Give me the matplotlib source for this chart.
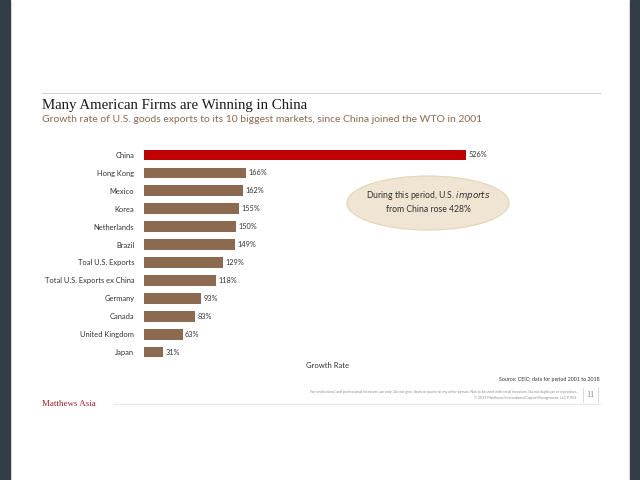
import matplotlib.pyplot as plt
from matplotlib.patches import Ellipse, Rectangle
from matplotlib.lines import Line2D

markets = ["China", "Hong Kong", "Mexico", "Korea", "Netherlands", "Brazil",
           "Toal U.S. Exports", "Total U.S. Exports ex China", "Germany",
           "Canada", "United Kingdom", "Japan"]
growth = [526, 166, 162, 155, 150, 149, 129, 118, 93, 83, 63, 31]

W, H = 640, 480


def px(x, y):
    return x / W, 1 - y / H


def main():
	fig = plt.figure(figsize=(6.4, 4.8), dpi=100)
	fig.patch.set_facecolor("white")

	# dark slide borders
	fig.patches.append(Rectangle((0, 0), 10 / W, 1, transform=fig.transFigure,
	                             color="#333d45", zorder=0))
	fig.patches.append(Rectangle((630 / W, 0), 10 / W, 1, transform=fig.transFigure,
	                             color="#333d45", zorder=0))

	# header
	fig.lines.append(Line2D([42 / W, 600 / W], [1 - 93 / H] * 2, transform=fig.transFigure,
	                        color="#d9d2cc", lw=0.8))
	x, y = px(42, 105)
	fig.text(x, y, "Many American Firms are Winning in China", family="Liberation Serif",
	         fontsize=10.7, color="#1a1a1a", va="center")
	x, y = px(42, 120)
	fig.text(x, y, "Growth rate of U.S. goods exports to its 10 biggest markets, since China joined the WTO in 2001",
	         family="Lato", fontsize=7.45, color="#8c6a4f", va="center")

	ax = fig.add_axes([144 / W, 1 - 361 / H, 367 / W, 215 / H])
	colors = ["#c00000"] + ["#8c6a4f"] * (len(markets) - 1)
	pos = list(range(len(markets)))
	ax.barh(pos, growth, height=0.6, color=colors)
	for p, v in zip(pos, growth):
		ax.text(v + 4, p, f"{v}%", va="center", ha="left", fontsize=5.3,
		        family="Lato", color="#333333")
	ax.set_yticks(pos)
	ax.set_yticklabels(markets, family="Lato", fontsize=5.4, color="#333333")
	ax.set_ylim(len(markets) - 0.5, -0.5)
	ax.set_xlim(0, 600)
	ax.set_xticks([])
	ax.tick_params(axis="y", length=0, pad=7)
	for s in ax.spines.values():
		s.set_visible(False)
	ax.set_xlabel("Growth Rate", family="Lato", fontsize=5.5, color="#333333", labelpad=1)

	# callout bubble
	ell = Ellipse(px(428, 203), 162 / W, 54 / H, transform=fig.transFigure,
	              facecolor="#efe5d2", edgecolor="#e2d3b8", lw=0.8)
	fig.patches.append(ell)
	x, y = px(428, 196)
	fig.text(x, y, "During this period, U.S. $\\it{imports}$", family="Lato", fontsize=6.2,
	         color="#333333", ha="center", va="center")
	x, y = px(428, 210)
	fig.text(x, y, "from China rose 428%", family="Lato", fontsize=6.2,
	         color="#333333", ha="center", va="center")

	# footer
	x, y = px(600, 380)
	fig.text(x, y, "Source: CEIC; data for period 2001 to 2018", family="Lato", fontsize=3.8,
	         color="#333333", ha="right", va="center")
	x, y = px(577, 392)
	fig.text(x, y, "For institutional and professional investors use only. Do not give, show or quote to any other person. "
	         "Not to be used with retail investors. Do not duplicate or reproduce.",
	         family="Lato", fontsize=2.6, color="#8a8a8a", ha="right", va="center")
	x, y = px(577, 398)
	fig.text(x, y, "\u00a9 2019 Matthews International Capital Management, LLC PJ?01",
	         family="Lato", fontsize=2.6, color="#8a8a8a", ha="right", va="center")
	x, y = px(590, 395)
	fig.text(x, y, "11", family="Liberation Serif", fontsize=6, color="#8a8a8a",
	         ha="center", va="center")
	for xs in (583, 598):
		fig.lines.append(Line2D([xs / W] * 2, [1 - 388 / H, 1 - 402 / H], transform=fig.transFigure,
		                        color="#cccccc", lw=0.5))
	fig.lines.append(Line2D([113 / W, 600 / W], [1 - 404 / H] * 2, transform=fig.transFigure,
	                        color="#e3e3e3", lw=0.6))
	x, y = px(42, 404)
	fig.text(x, y, "Matthews Asia", family="Liberation Serif", fontsize=6.5,
	         color="#a8202a", va="center")

	fig.savefig("out.png", dpi=100)


if __name__ == "__main__":
	main()
